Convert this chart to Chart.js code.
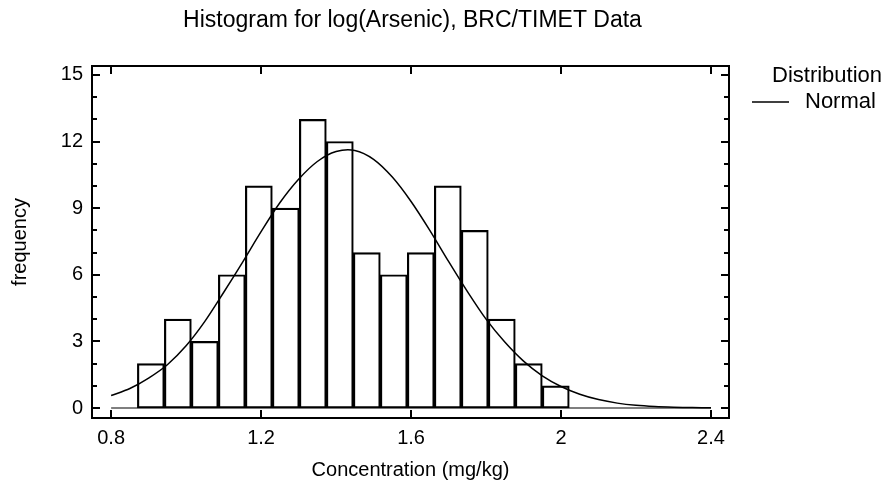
<!DOCTYPE html>
<html>
<head>
<meta charset="utf-8">
<script src="https://cdn.jsdelivr.net/npm/chart.js@4"></script>
<style>
  html, body { margin: 0; padding: 0; background: #fff; }
  #wrap { width: 891px; height: 489px; }
</style>
</head>
<body>
<div id="wrap"><canvas id="hist"></canvas></div>
<script>
// histogram bins (centers) and counts
const binCenters = [0.906, 0.978, 1.050, 1.122, 1.194, 1.266, 1.338, 1.410,
                    1.482, 1.554, 1.626, 1.698, 1.770, 1.842, 1.914, 1.986];
const counts = [2, 4, 3, 6, 10, 9, 13, 12, 7, 6, 7, 10, 8, 4, 2, 1];

// fitted normal curve
const curveX = [0.80, 0.85, 0.90, 0.95, 1.00, 1.05, 1.10, 1.15, 1.20, 1.25, 1.30,
                1.35, 1.40, 1.45, 1.50, 1.55, 1.60, 1.65, 1.70, 1.75, 1.80, 1.85,
                1.90, 1.95, 2.00, 2.05, 2.10, 2.15, 2.20, 2.25, 2.30, 2.35, 2.40];
const curveY = [0.56, 0.88, 1.35, 1.95, 2.80, 3.90, 5.20, 6.55, 7.94, 9.24, 10.3,
                11.1, 11.55, 11.6, 11.2, 10.4, 9.3, 8.0, 6.6, 5.25, 4.0, 2.97,
                2.11, 1.45, 0.97, 0.62, 0.38, 0.22, 0.12, 0.065, 0.035, 0.018, 0.009];

const xTicks = [0.8, 1.2, 1.6, 2.0, 2.4];
const yTicks = [0, 3, 6, 9, 12, 15];
const yMinorTicks = [0, 1, 2, 3, 4, 5, 6, 7, 8, 9, 10, 11, 12, 13, 14, 15];

const chartTitle = "Histogram for log(Arsenic), BRC/TIMET Data";
const legendTitle = "Distribution";
const legendLabel = "Normal";

const FONT = "'Liberation Sans', Arial, Helvetica, sans-serif";
const txt = { family: FONT, size: 20 };

// frame, inward ticks, title and legend
const framePlugin = {
  id: "frame",
  afterDraw(chart) {
    const ctx = chart.ctx;
    const a = chart.chartArea;
    const xs = chart.scales.x;
    const ys = chart.scales.y;
    ctx.save();
    ctx.strokeStyle = "#000";
    ctx.lineWidth = 2;
    ctx.strokeRect(a.left, a.top, a.right - a.left, a.bottom - a.top);

    ctx.beginPath();
    xTicks.forEach(v => {
      const px = Math.round(xs.getPixelForValue(v));
      ctx.moveTo(px, a.bottom); ctx.lineTo(px, a.bottom - 8);
      ctx.moveTo(px, a.top); ctx.lineTo(px, a.top + 8);
    });
    yMinorTicks.forEach(v => {
      const py = Math.round(ys.getPixelForValue(v));
      const len = yTicks.includes(v) ? 8 : 5;
      ctx.moveTo(a.left, py); ctx.lineTo(a.left + len, py);
      ctx.moveTo(a.right, py); ctx.lineTo(a.right - len, py);
    });
    ctx.stroke();

    ctx.fillStyle = "#000";
    ctx.textBaseline = "middle";
    ctx.textAlign = "center";
    ctx.font = `23px ${FONT}`;
    ctx.fillText(chartTitle, (a.left + a.right) / 2 + 2, 21);

    ctx.textAlign = "left";
    ctx.font = `22px ${FONT}`;
    ctx.fillText(legendTitle, 772, 76);
    ctx.fillText(legendLabel, 805, 102);
    ctx.lineWidth = 1.5;
    ctx.beginPath();
    ctx.moveTo(752, 102); ctx.lineTo(789, 102);
    ctx.stroke();
    ctx.restore();
  }
};

new Chart(document.getElementById("hist"), {
  type: "bar",
  data: {
    datasets: [
      {
        type: "line",
        data: curveX.map((x, i) => ({ x: x, y: curveY[i] })),
        borderColor: "#000",
        borderWidth: 1.5,
        pointRadius: 0,
        tension: 0.3,
        order: 0,
      },
      {
        type: "line",
        data: [{ x: 0.8, y: 0 }, { x: 2.4, y: 0 }],
        borderColor: "#000",
        borderWidth: 1.2,
        pointRadius: 0,
        order: 2,
      },
      {
        type: "bar",
        data: binCenters.map((x, i) => ({ x: x, y: counts[i] })),
        backgroundColor: "rgba(0,0,0,0)",
        borderColor: "#000",
        borderWidth: 1.5,
        borderSkipped: false,
        barPercentage: 1,
        categoryPercentage: 1,
        grouped: false,
        order: 1,
      },
    ],
  },
  options: {
    responsive: true,
    maintainAspectRatio: false,
    animation: false,
    layout: { padding: { top: 66, right: 162, left: 0, bottom: 0 } },
    scales: {
      x: {
        type: "linear",
        offset: false,
        min: 0.749,
        max: 2.448,
        afterBuildTicks: s => { s.ticks = xTicks.map(v => ({ value: v })); },
        afterFit: s => { s.height = 71; },
        grid: { display: false, drawTicks: false, offset: false },
        border: { display: false },
        ticks: {
          color: "#000",
          font: txt,
          padding: 8,
          maxRotation: 0,
          callback: v => String(Math.round(v * 10) / 10),
        },
        title: {
          display: true,
          text: "Concentration (mg/kg)",
          color: "#000",
          font: txt,
          padding: { top: 0, bottom: 7 },
        },
      },
      y: {
        min: -0.45,
        max: 15.4,
        afterBuildTicks: s => { s.ticks = yTicks.map(v => ({ value: v })); },
        afterFit: s => { s.width = 92; },
        grid: { display: false, drawTicks: false },
        border: { display: false },
        ticks: { color: "#000", font: txt, padding: 9 },
        title: {
          display: true,
          text: "frequency",
          color: "#000",
          font: txt,
          padding: { top: 8, bottom: 0 },
        },
      },
    },
    plugins: {
      legend: { display: false },
      title: { display: false },
      tooltip: { enabled: false },
    },
  },
  plugins: [framePlugin],
});
</script>
</body>
</html>
